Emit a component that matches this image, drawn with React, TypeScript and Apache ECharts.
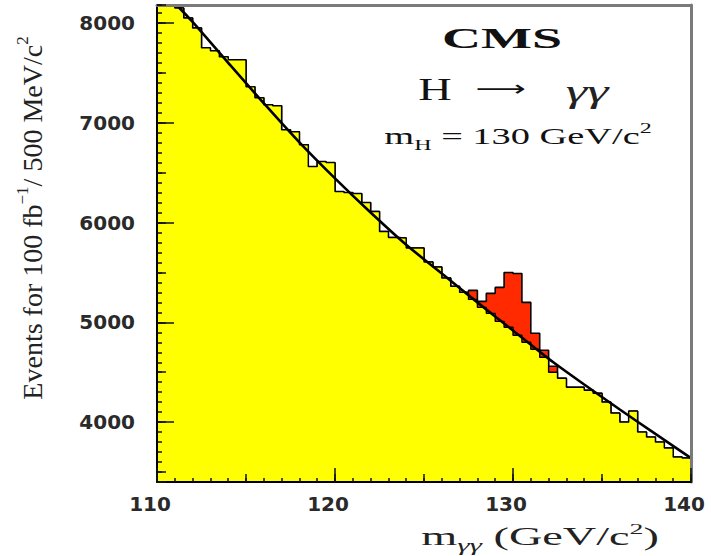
import React, { useEffect, useRef } from 'react';
import * as echarts from 'echarts';

// Histogram: 60 bins of 0.5 GeV from 110 to 140 GeV
const BIN_START = 110;
const BIN_WIDTH = 0.5;

// Background (yellow) events per bin
const background = [
  8400, 8300, 8150, 8050, 7950, 7750, 7720, 7660, 7630, 7630,
  7360, 7250, 7180, 7170, 6930, 6910, 6780, 6560, 6610, 6600,
  6310, 6300, 6290, 6200, 6110, 5910, 5850, 5845, 5745, 5745,
  5604, 5554, 5444, 5360, 5300, 5230, 5150, 5090, 5010, 4950,
  4870, 4800, 4730, 4650, 4500, 4440, 4350, 4350, 4320, 4290,
  4200, 4090, 4000, 4110, 3900, 3850, 3800, 3740, 3650, 3640,
];

// Higgs signal (red) events per bin, stacked on the background
const signal = [
  0, 0, 0, 0, 0, 0, 0, 0, 0, 0,
  0, 0, 0, 0, 0, 0, 0, 0, 0, 0,
  0, 0, 0, 0, 0, 0, 0, 0, 0, 0,
  0, 0, 0, 0, 0, 90, 60, 200, 340, 550,
  620, 400, 160, 70, 60, 0, 0, 0, 0, 0,
  0, 0, 0, 0, 0, 0, 0, 0, 0, 0,
];

// Background fit curve
const fitMass = [111.1, 112, 114, 116, 118, 120, 122, 124, 126, 128, 130, 132, 134, 136, 138, 140];
const fitEvents = [8180, 8010, 7600, 7195, 6803, 6442, 6100, 5777, 5490, 5200, 4918, 4635, 4377, 4127, 3882, 3640];

const X_MIN = 110;
const X_MAX = 140;
const Y_MIN = 3400;
const Y_MAX = 8180;

const LABEL_FONT = {
  fontFamily: 'DejaVu Sans',
  fontWeight: 'bold' as const,
  fontSize: 20,
  color: '#2a2a2a',
};

const SERIF = 'Liberation Serif';

function stepData(values: number[]) {
  const pts: number[][] = values.map((v, k) => [BIN_START + k * BIN_WIDTH, v]);
  pts.push([BIN_START + values.length * BIN_WIDTH, values[values.length - 1]]);
  return pts;
}

function centeredText(x: number, y: number, scaleX: number, style: any, rotation = 0) {
  return {
    type: 'text',
    x,
    y,
    scaleX,
    rotation,
    z: 20,
    style: {
      align: 'center',
      verticalAlign: 'middle',
      textAlign: 'center',
      textVerticalAlign: 'middle',
      fill: '#1a1a1a',
      ...style,
    },
  };
}

export default function App() {
  const ref = useRef<HTMLDivElement>(null);

  useEffect(() => {
    if (!ref.current) return;
    const chart = echarts.init(ref.current, null, { renderer: 'svg' });

    const total = background.map((v, k) => v + signal[k]);

    const tickAxisX = (interval: number, length: number) => ({
      type: 'value',
      min: X_MIN,
      max: X_MAX,
      interval,
      position: 'bottom',
      offset: 0,
      z: 10,
      axisLine: { show: false, onZero: false },
      axisTick: { show: true, inside: true, length, lineStyle: { color: '#111', width: 1.5 } },
      axisLabel: { show: false },
      splitLine: { show: false },
    });

    const option: any = {
      animation: false,
      backgroundColor: '#ffffff',
      grid: { left: 157, right: 20, top: 5, bottom: 74, containLabel: false },
      xAxis: [
        {
          type: 'value',
          min: X_MIN,
          max: X_MAX,
          interval: 10,
          position: 'bottom',
          offset: 0,
          z: 10,
          axisLine: { onZero: false, lineStyle: { color: '#000', width: 2 } },
          axisTick: { inside: true, length: 14, lineStyle: { color: '#111', width: 1.5 } },
          axisLabel: { ...LABEL_FONT, margin: 12, padding: [0, 14, 0, 0] },
          splitLine: { show: false },
        },
        tickAxisX(5, 8),
        tickAxisX(1, 4),
        {
          type: 'value',
          min: X_MIN,
          max: X_MAX,
          position: 'top',
          z: 10,
          axisLine: { onZero: false, lineStyle: { color: '#7a7a7a', width: 3 } },
          axisTick: { show: false },
          axisLabel: { show: false },
          splitLine: { show: false },
        },
      ],
      yAxis: [
        {
          type: 'value',
          min: Y_MIN,
          max: Y_MAX,
          splitNumber: 5,
          minInterval: 1000,
          maxInterval: 1000,
          position: 'left',
          offset: 0,
          z: 10,
          axisLine: { onZero: false, lineStyle: { color: '#000', width: 2 } },
          axisTick: { inside: true, length: 17, lineStyle: { color: '#111', width: 1.5 } },
          axisLabel: {
            ...LABEL_FONT,
            margin: 22,
            showMinLabel: false,
            showMaxLabel: false,
            formatter: (v: number) => (v % 1000 === 0 ? String(v) : ''),
          },
          splitLine: { show: false },
        },
        {
          type: 'value',
          min: Y_MIN,
          max: Y_MAX,
          splitNumber: 10,
          minInterval: 500,
          maxInterval: 500,
          position: 'left',
          offset: 0,
          z: 10,
          axisLine: { show: false, onZero: false },
          axisTick: { inside: true, length: 9, lineStyle: { color: '#111', width: 1.5 } },
          axisLabel: { show: false },
          splitLine: { show: false },
        },
        {
          type: 'value',
          min: Y_MIN,
          max: Y_MAX,
          interval: 100,
          position: 'left',
          offset: 0,
          z: 10,
          axisLine: { show: false, onZero: false },
          axisTick: { inside: true, length: 5, lineStyle: { color: '#111', width: 1.5 } },
          axisLabel: { show: false },
          splitLine: { show: false },
        },
        {
          type: 'value',
          min: Y_MIN,
          max: Y_MAX,
          position: 'right',
          z: 10,
          axisLine: { onZero: false, lineStyle: { color: '#7a7a7a', width: 3 } },
          axisTick: { show: false },
          axisLabel: { show: false },
          splitLine: { show: false },
        },
      ],
      series: [
        {
          name: 'signal+background',
          type: 'line',
          step: 'end',
          xAxisIndex: 0,
          yAxisIndex: 0,
          data: stepData(total),
          symbol: 'none',
          z: 2,
          lineStyle: { color: '#000', width: 1.6 },
          areaStyle: { color: '#ff2a00', opacity: 1, origin: 'start' },
        },
        {
          name: 'background',
          type: 'line',
          step: 'end',
          xAxisIndex: 0,
          yAxisIndex: 0,
          data: stepData(background),
          symbol: 'none',
          z: 3,
          lineStyle: { color: '#000', width: 1.4 },
          areaStyle: { color: '#ffff00', opacity: 1, origin: 'start' },
        },
        {
          name: 'fit',
          type: 'line',
          xAxisIndex: 0,
          yAxisIndex: 0,
          data: fitMass.map((m, i) => [m, fitEvents[i]]),
          symbol: 'none',
          smooth: 0.3,
          z: 4,
          lineStyle: { color: '#000', width: 2.6 },
        },
      ],
      graphic: [
        centeredText(
          32,
          218,
          1,
          {
            text: '{a|Events for 100 fb}{s|−1}{a|/ 500 MeV/c}{s|2}',
            fill: '#222',
            rich: {
              a: { fontFamily: SERIF, fontSize: 28, lineHeight: 36, fill: '#222' },
              s: { fontFamily: SERIF, fontSize: 17, lineHeight: 19, verticalAlign: 'top', fill: '#222' },
            },
          },
          Math.PI / 2
        ),
        centeredText(540, 537, 1.85, {
          text: '{a|m}{g|γγ}{a| (GeV/c}{s|2}{a|)}',
          fill: '#222',
          rich: {
            a: { fontFamily: SERIF, fontSize: 25, lineHeight: 32, fill: '#222' },
            g: { fontFamily: SERIF, fontStyle: 'italic', fontSize: 17, lineHeight: 20, verticalAlign: 'bottom', fill: '#222' },
            s: { fontFamily: SERIF, fontSize: 15, lineHeight: 18, verticalAlign: 'top', fill: '#222' },
          },
        }),
        centeredText(502, 38, 1.8, {
          text: 'CMS',
          fontFamily: SERIF,
          fontWeight: 'bold',
          fontSize: 30,
          fill: '#111',
        }),
        centeredText(435, 89, 1.45, {
          text: 'H',
          fontFamily: SERIF,
          fontSize: 32,
          fill: '#111',
        }),
        centeredText(501, 89, 1.6, {
          text: '⟶',
          fontFamily: 'DejaVu Sans',
          fontSize: 22,
          fill: '#111',
        }),
        centeredText(587, 92, 1.75, {
          text: 'γγ',
          fontFamily: SERIF,
          fontStyle: 'italic',
          fontSize: 31,
          fill: '#222',
        }),
        centeredText(518, 136, 1.6, {
          text: '{a|m}{b|H}{a| = 130 GeV/c}{s|2}',
          fill: '#111',
          rich: {
            a: { fontFamily: SERIF, fontSize: 24, lineHeight: 32, fill: '#111' },
            b: { fontFamily: SERIF, fontSize: 15, lineHeight: 20, verticalAlign: 'bottom', fill: '#111' },
            s: { fontFamily: SERIF, fontSize: 15, lineHeight: 18, verticalAlign: 'top', fill: '#111' },
          },
        }),
      ],
    };

    chart.setOption(option);
    return () => chart.dispose();
  }, []);

  return (
    <div
      ref={ref}
      style={{ position: 'fixed', left: 0, top: 0, width: 711, height: 556, background: '#fff' }}
    />
  );
}
